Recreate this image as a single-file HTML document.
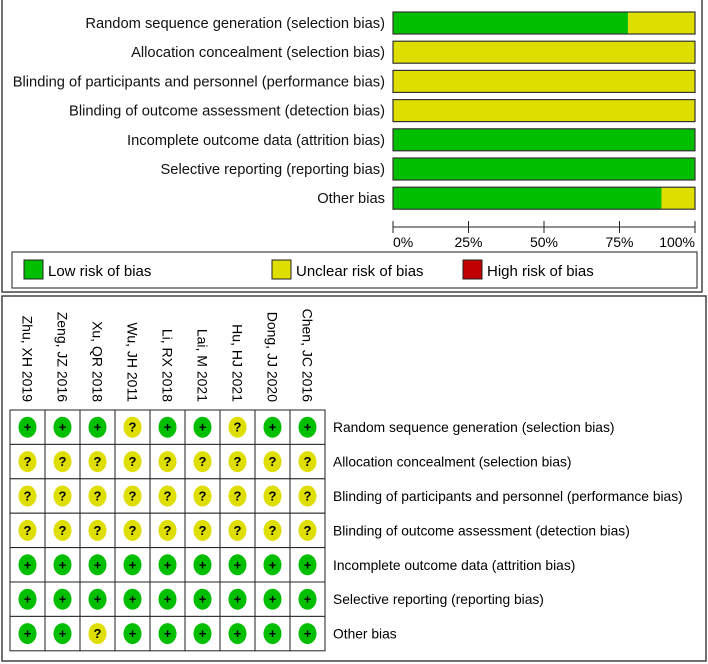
<!DOCTYPE html>
<html><head><meta charset="utf-8"><style>
html,body{margin:0;padding:0;background:#fff;}
svg{display:block;font-family:"Liberation Sans",Arial,sans-serif;}
</style></head><body>
<svg id="chart" width="708" height="664" viewBox="0 0 708 664" xmlns="http://www.w3.org/2000/svg">
<rect x="2" y="-2" width="700" height="294" fill="none" stroke="#444" stroke-width="1.5"/>
<rect x="2" y="296" width="704" height="365" fill="none" stroke="#444" stroke-width="1.5"/>
<g id="topbars"></g>
<g id="legend">
<rect x="12" y="252" width="685" height="36" fill="#fff" stroke="#444" stroke-width="1.2"/>
<rect x="24" y="260" width="19" height="19" fill="#00bf00" stroke="#222"/>
<text x="48" y="276" font-size="15">Low risk of bias</text>
<rect x="272" y="260" width="19" height="19" fill="#dede00" stroke="#222"/>
<text x="296" y="276" font-size="15">Unclear risk of bias</text>
<rect x="463" y="260" width="19" height="19" fill="#c00000" stroke="#222"/>
<text x="487" y="276" font-size="15">High risk of bias</text>
</g>
<g id="grid"></g>
</svg>
<script>
const domains = ["Random sequence generation (selection bias)","Allocation concealment (selection bias)","Blinding of participants and personnel (performance bias)","Blinding of outcome assessment (detection bias)","Incomplete outcome data (attrition bias)","Selective reporting (reporting bias)","Other bias"];
const lowPct = [77.8, 0, 0, 0, 100, 100, 88.9];
const unclearPct = [22.2, 100, 100, 100, 0, 0, 11.1];
const highPct = [0, 0, 0, 0, 0, 0, 0];
const tickVals = [0, 25, 50, 75, 100];
const tickLabels = ["0%","25%","50%","75%","100%"];
const studies = ["Zhu, XH 2019","Zeng, JZ 2016","Xu, QR 2018","Wu, JH 2011","Li, RX 2018","Lai, M 2021","Hu, HJ 2021","Dong, JJ 2020","Chen, JC 2016"];
const judgements = [
 ["+","+","+","?","+","+","?","+","+"],
 ["?","?","?","?","?","?","?","?","?"],
 ["?","?","?","?","?","?","?","?","?"],
 ["?","?","?","?","?","?","?","?","?"],
 ["+","+","+","+","+","+","+","+","+"],
 ["+","+","+","+","+","+","+","+","+"],
 ["+","+","?","+","+","+","+","+","+"]
];
const NS="http://www.w3.org/2000/svg";
function mk(tag,attrs,parent){const e=document.createElementNS(NS,tag);for(const k in attrs)e.setAttribute(k,attrs[k]);parent.appendChild(e);return e;}
const GREEN="#00bf00",YELLOW="#dede00",RED="#c00000";
const x0=393,x1=695;
const xs=v=>x0+(x1-x0)*v/100;
const rowY=i=>12+i*29.2;
const topG=document.getElementById('topbars');
domains.forEach((d,i)=>{
  const y=rowY(i);
  const t=mk('text',{x:385,y:y+16,'font-size':14.7,'text-anchor':'end',fill:'#111'},topG);
  t.textContent=d;
  
  
  let acc=0;
  [[lowPct[i],GREEN,'low'],[unclearPct[i],YELLOW,'unclear'],[highPct[i],RED,'high']].forEach(([v,c,n])=>{
    if(v>0){const r=mk('rect',{x:xs(acc),y:y,width:xs(acc+v)-xs(acc),height:22,fill:c},topG);
    
    }
    acc+=v;
  });
  const o=mk('rect',{x:x0,y:y,width:x1-x0,height:22,fill:'none',stroke:'#333','stroke-width':1.2},topG);
  
  
});
const ax=mk('line',{x1:x0,x2:x1,y1:227,y2:227,stroke:'#222'},topG);


tickVals.forEach((v,k)=>{
  const tl=mk('line',{x1:xs(v),x2:xs(v),y1:221,y2:233,stroke:'#222'},topG);
  
  
  const tx=mk('text',{x:xs(v),y:247,'font-size':14,'text-anchor':k==0?'start':(k==tickVals.length-1?'end':'middle')},topG);
  tx.textContent=tickLabels[k];
  
  
});
const g=document.getElementById('grid');
const gx=10,gy=410,cw=35,rh=34.4;
studies.forEach((s,j)=>{
  const cx=gx+cw*j+cw/2;
  const t=mk('text',{x:0,y:0,'font-size':14,transform:`translate(${cx-5},402) rotate(90)`,'text-anchor':'end'},g);
  t.textContent=s;
  
  
});
judgements.forEach((row,i)=>{
  const t=mk('text',{x:333,y:gy+rh*i+rh/2+5,'font-size':13.8},g);
  t.textContent=domains[i];
  
  
  row.forEach((v,j)=>{
    const cx=gx+cw*j+cw/2, cy=gy+rh*i+rh/2;
    const c=mk('rect',{x:gx+cw*j,y:gy+rh*i,width:cw,height:rh,fill:'#fff',stroke:'#222','stroke-width':1},g);
    
    
    const e=mk('ellipse',{cx:cx,cy:cy,rx:9,ry:10.5,fill:v=='+'?GREEN:(v=='?'?YELLOW:RED)},g);
    
    
    const s=mk('text',{x:cx,y:cy+4.5,'font-size':13,'font-weight':'bold','text-anchor':'middle'},g);
    s.textContent=v;
    
    
  });
});
</script>
</body></html>
